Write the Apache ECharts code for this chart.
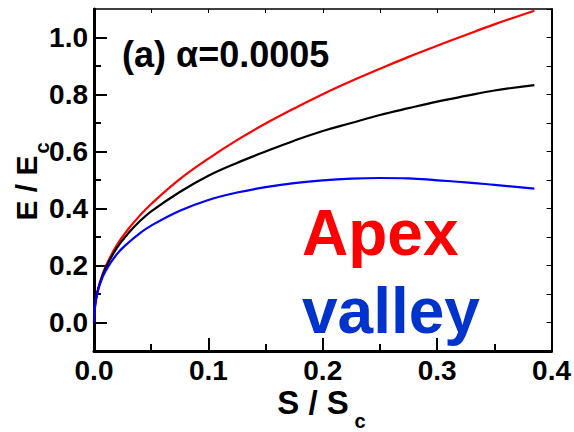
<!DOCTYPE html>
<html>
<head>
<meta charset="utf-8">
<script src="https://cdn.jsdelivr.net/npm/echarts@6/dist/echarts.min.js"></script>
<style>
html,body{margin:0;padding:0;background:#fff;}
#c{width:574px;height:432px;}
</style>
</head>
<body>
<div id="c"></div>
<script>
// ---- data ----
var sValues = [0, 0.001, 0.0025, 0.005, 0.01, 0.02, 0.03, 0.04, 0.05, 0.075, 0.1, 0.125, 0.15, 0.175, 0.2, 0.225, 0.25, 0.275, 0.3, 0.325, 0.35, 0.385];
var apexE   = [0, 0.064, 0.099, 0.138, 0.195, 0.272, 0.328, 0.375, 0.416, 0.503, 0.575, 0.640, 0.698, 0.751, 0.801, 0.847, 0.890, 0.932, 0.971, 1.009, 1.046, 1.094];
var middleE = [0, 0.063, 0.098, 0.136, 0.19, 0.262, 0.313, 0.355, 0.39, 0.458, 0.515, 0.56, 0.60, 0.638, 0.672, 0.70, 0.728, 0.752, 0.775, 0.795, 0.814, 0.833];
var valleyE = [0, 0.06, 0.095, 0.133, 0.18, 0.24, 0.28, 0.313, 0.34, 0.392, 0.43, 0.456, 0.475, 0.489, 0.499, 0.505, 0.507, 0.506, 0.499, 0.492, 0.483, 0.470];
var xTickLabels = [0, 0.1, 0.2, 0.3, 0.4];
var yTickLabels = [0, 0.2, 0.4, 0.6, 0.8, 1.0];
var yMinorTicks = [0.1, 0.3, 0.5, 0.7, 0.9];
var panelLabel = '(a) α=0.0005';
var apexLabel = 'Apex';
var valleyLabel = 'valley';

function pairs(xs, ys){ return xs.map(function(x,i){ return [x, ys[i]]; }); }

var FONT = '"Liberation Sans", Arial, sans-serif';
var chart = echarts.init(document.getElementById('c'), null, {renderer:'svg'});
var option = {
  animation:false,
  backgroundColor:'#fff',
  grid:{left:94, right:19, top:9, bottom:81},
  xAxis:[
    {type:'value', min:0, max:0.4, interval:0.1, position:'bottom',
     axisLine:{onZero:false, lineStyle:{color:'#000', width:3}},
     axisTick:{inside:true, length:13, lineStyle:{color:'#000', width:2}},
     minorTick:{show:true, splitNumber:2, length:7, lineStyle:{color:'#000', width:2}},
     splitLine:{show:false},
     axisLabel:{customValues:xTickLabels, color:'#000', fontFamily:FONT, fontWeight:'bold', fontSize:28, margin:5,
       formatter:function(v){return v.toFixed(1);}}},
    {type:'value', min:0, max:0.4, interval:0.05, position:'top',
     axisLine:{onZero:false, lineStyle:{color:'#000', width:1.5}},
     axisTick:{inside:true, length:4, lineStyle:{color:'#000', width:1}},
     splitLine:{show:false}, axisLabel:{show:false}}
  ],
  yAxis:[
    {type:'value', min:-0.1, max:1.1, interval:0.1, position:'left',
     axisLine:{onZero:false, lineStyle:{color:'#000', width:3}},
     axisTick:{inside:true, length:13, customValues:yTickLabels, lineStyle:{color:'#000', width:2}},
     splitLine:{show:false},
     axisLabel:{customValues:yTickLabels, color:'#000', fontFamily:FONT, fontWeight:'bold', fontSize:28, margin:6,
       formatter:function(v){return v.toFixed(1);}}},
    {type:'value', min:-0.1, max:1.1, interval:0.1, position:'left', offset:0,
     axisLine:{show:false, onZero:false},
     axisTick:{inside:true, length:7, customValues:yMinorTicks, lineStyle:{color:'#000', width:2}},
     splitLine:{show:false}, axisLabel:{show:false}},
    {type:'value', min:-0.1, max:1.1, interval:0.1, position:'right',
     axisLine:{onZero:false, lineStyle:{color:'#000', width:2}},
     axisTick:{inside:true, length:5, lineStyle:{color:'#000', width:1}},
     splitLine:{show:false}, axisLabel:{show:false}}
  ],
  series:[
    {type:'line', data:pairs(sValues, apexE), showSymbol:false, smooth:0.4, lineStyle:{color:'#ff0000', width:2.2}},
    {type:'line', data:pairs(sValues, middleE), showSymbol:false, smooth:0.4, lineStyle:{color:'#000000', width:2.2}},
    {type:'line', data:pairs(sValues, valleyE), showSymbol:false, smooth:0.4, lineStyle:{color:'#0000ff', width:2.2}}
  ],
  graphic:[
    {type:'text', x:122, y:54, style:{text:panelLabel, font:'bold 36px '+FONT, fill:'#000', align:'left', verticalAlign:'middle'}},
    {type:'text', x:302, y:233, style:{text:apexLabel, font:'bold 64px '+FONT, fill:'#ff0000', align:'left', verticalAlign:'middle'}},
    {type:'text', x:302, y:311, style:{text:valleyLabel, font:'bold 64px '+FONT, fill:'#0033cc', align:'left', verticalAlign:'middle'}},
    {type:'text', x:313, y:402, style:{text:'S / S', font:'bold 33px '+FONT, fill:'#000', align:'center', verticalAlign:'middle'}},
    {type:'text', x:360, y:421, style:{text:'c', font:'bold 20px '+FONT, fill:'#000', align:'center', verticalAlign:'middle'}},
    {type:'text', x:26, y:188, rotation:Math.PI/2, style:{text:'E / E', font:'bold 30px '+FONT, fill:'#000', align:'center', verticalAlign:'middle'}},
    {type:'text', x:42, y:148, rotation:Math.PI/2, style:{text:'c', font:'bold 20px '+FONT, fill:'#000', align:'center', verticalAlign:'middle'}}
  ]
};
chart.setOption(option);
</script>
</body>
</html>
